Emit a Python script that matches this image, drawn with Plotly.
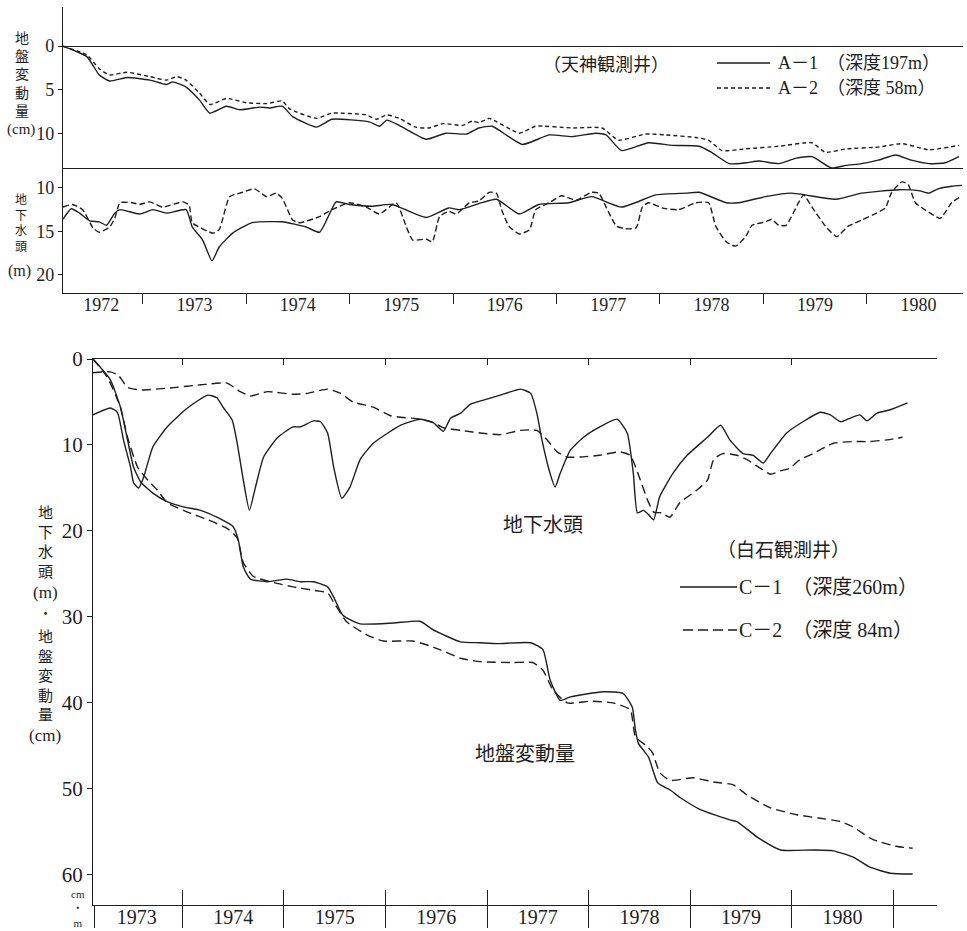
import plotly.graph_objects as go

# ---------------- data (decimal years, values) ----------------
# 天神観測井 : ground deformation (cm)
A1_def_t = [1972.23, 1972.46, 1972.58, 1972.68, 1972.85, 1973.07, 1973.23, 1973.29, 1973.42, 1973.55,
            1973.65, 1973.81, 1973.94, 1974.13, 1974.23, 1974.35, 1974.45, 1974.68, 1974.83, 1975.19,
            1975.29, 1975.36, 1975.48, 1975.74, 1975.93, 1976.13, 1976.25, 1976.38, 1976.67, 1976.93,
            1977.15, 1977.38, 1977.48, 1977.63, 1977.89, 1978.12, 1978.38, 1978.50, 1978.67, 1978.83,
            1978.96, 1979.15, 1979.31, 1979.47, 1979.66, 1979.80, 1979.95, 1980.11, 1980.28, 1980.43,
            1980.60, 1980.76, 1980.89]
A1_def_v = [0.0, 1.2, 3.3, 4.0, 3.6, 3.9, 4.4, 4.1, 4.7, 6.2,
            7.7, 6.9, 7.3, 7.0, 7.1, 6.9, 8.1, 9.3, 8.4, 8.7,
            9.2, 8.5, 9.1, 10.7, 10.0, 10.1, 9.4, 9.2, 11.3, 10.2,
            10.4, 10.0, 10.2, 12.0, 11.1, 11.4, 11.5, 12.2, 13.5, 13.4,
            13.2, 13.5, 12.9, 12.7, 14.0, 13.7, 13.5, 13.1, 12.5, 13.1,
            13.5, 13.4, 12.7]
A2_def_t = [1972.23, 1972.46, 1972.58, 1972.68, 1972.85, 1973.07, 1973.23, 1973.33, 1973.42, 1973.55,
            1973.65, 1973.81, 1974.00, 1974.20, 1974.35, 1974.42, 1974.68, 1974.83, 1975.16, 1975.26,
            1975.36, 1975.48, 1975.64, 1975.77, 1975.90, 1976.09, 1976.19, 1976.25, 1976.35, 1976.64,
            1976.80, 1977.15, 1977.44, 1977.60, 1977.86, 1978.06, 1978.35, 1978.47, 1978.60, 1978.83,
            1979.15, 1979.47, 1979.60, 1979.80, 1980.11, 1980.34, 1980.60, 1980.89]
A2_def_v = [0.0, 1.0, 2.6, 3.3, 3.0, 3.5, 3.9, 3.5, 3.9, 5.4,
            6.7, 6.0, 6.5, 6.6, 6.3, 7.2, 8.3, 7.7, 7.9, 8.4,
            7.9, 8.3, 9.3, 9.4, 8.9, 9.1, 8.6, 8.8, 8.3, 10.0,
            9.2, 9.4, 9.4, 10.8, 10.1, 10.2, 10.5, 10.8, 12.0, 11.8,
            11.5, 11.1, 12.2, 11.8, 11.6, 11.2, 11.9, 11.4]

# 天神観測井 : groundwater head (m)
A1_head_t = [1972.23, 1972.31, 1972.39, 1972.49, 1972.58, 1972.65, 1972.73, 1972.78, 1972.97, 1973.10,
             1973.23, 1973.42, 1973.48, 1973.58, 1973.67, 1973.74, 1973.87, 1974.06, 1974.35, 1974.58,
             1974.71, 1974.81, 1974.87, 1975.00, 1975.22, 1975.41, 1975.74, 1975.96, 1976.06, 1976.25,
             1976.42, 1976.64, 1976.83, 1977.12, 1977.34, 1977.63, 1977.96, 1978.25, 1978.38, 1978.64,
             1978.76, 1979.02, 1979.27, 1979.70, 1979.95, 1980.31, 1980.50, 1980.60, 1980.69, 1980.82,
             1980.92]
A1_head_v = [13.6, 12.4, 12.9, 13.8, 13.9, 14.3, 12.9, 12.5, 13.0, 12.5,
             12.9, 12.5, 14.5, 16.0, 18.4, 16.8, 15.2, 14.0, 13.9, 14.5,
             15.1, 12.9, 11.6, 11.9, 12.1, 11.9, 13.4, 12.3, 12.5, 11.8,
             11.3, 13.0, 11.9, 11.7, 11.0, 12.2, 10.8, 10.6, 10.5, 11.7,
             11.7, 11.0, 10.6, 11.3, 10.6, 10.2, 10.3, 10.6, 10.1, 9.8,
             9.7]
A2_head_t = [1972.23, 1972.32, 1972.42, 1972.52, 1972.58, 1972.68, 1972.73, 1972.78, 1972.90, 1972.97,
             1973.07, 1973.19, 1973.39, 1973.45, 1973.48, 1973.68, 1973.74, 1973.84, 1973.94, 1974.08,
             1974.20, 1974.29, 1974.35, 1974.45, 1974.52, 1974.71, 1974.83, 1975.00, 1975.16, 1975.29,
             1975.45, 1975.55, 1975.61, 1975.74, 1975.80, 1975.87, 1975.96, 1976.03, 1976.16, 1976.25,
             1976.35, 1976.42, 1976.47, 1976.54, 1976.64, 1976.74, 1976.80, 1976.93, 1977.05, 1977.19,
             1977.34, 1977.41, 1977.48, 1977.58, 1977.67, 1977.77, 1977.83, 1977.89, 1978.02, 1978.18,
             1978.35, 1978.47, 1978.54, 1978.64, 1978.73, 1978.83, 1978.89, 1979.02, 1979.08, 1979.15,
             1979.22, 1979.34, 1979.39, 1979.47, 1979.60, 1979.71, 1979.82, 1979.95, 1980.11, 1980.18,
             1980.24, 1980.34, 1980.40, 1980.47, 1980.60, 1980.71, 1980.82, 1980.92]
A2_head_v = [12.2, 11.9, 12.5, 14.6, 15.1, 14.5, 13.5, 11.7, 11.7, 11.9,
             11.6, 12.2, 11.6, 12.0, 14.0, 15.2, 14.8, 11.0, 10.6, 10.1,
             11.0, 10.6, 11.2, 13.7, 14.0, 13.3, 12.5, 11.7, 12.2, 13.0,
             11.7, 14.5, 16.0, 15.9, 16.2, 13.3, 12.7, 13.0, 11.7, 11.5,
             10.5, 10.6, 12.5, 14.4, 15.3, 14.8, 12.5, 11.7, 10.9, 11.4,
             10.5, 10.6, 12.2, 14.4, 14.7, 14.6, 12.2, 11.7, 12.3, 12.5,
             11.7, 11.7, 14.4, 16.2, 16.7, 15.6, 14.3, 13.9, 13.6, 14.3,
             14.3, 11.7, 10.8, 12.2, 14.4, 15.6, 14.4, 13.7, 12.8, 12.3,
             10.5, 9.3, 9.6, 11.7, 12.8, 13.5, 11.7, 10.9]

# 白石観測井 : groundwater head (m)
C1_head_t = [1973.12, 1973.29, 1973.36, 1973.42, 1973.49, 1973.52, 1973.57, 1973.62, 1973.71, 1973.85,
             1974.05, 1974.25, 1974.34, 1974.40, 1974.49, 1974.54, 1974.60, 1974.66, 1974.72, 1974.80,
             1974.94, 1975.09, 1975.16, 1975.29, 1975.36, 1975.43, 1975.49, 1975.57, 1975.65, 1975.75,
             1975.88, 1976.15, 1976.34, 1976.47, 1976.57, 1976.64, 1976.74, 1976.83, 1976.93, 1977.13,
             1977.33, 1977.43, 1977.49, 1977.54, 1977.62, 1977.67, 1977.72, 1977.82, 1977.95, 1978.11,
             1978.28, 1978.38, 1978.44, 1978.48, 1978.54, 1978.59, 1978.64, 1978.70, 1978.83, 1978.97,
             1979.17, 1979.30, 1979.39, 1979.52, 1979.62, 1979.72, 1979.79, 1979.95, 1980.11, 1980.28,
             1980.38, 1980.48, 1980.57, 1980.67, 1980.74, 1980.84, 1980.97, 1981.14]
C1_head_v = [6.5, 5.7, 6.2, 9.4, 12.6, 14.4, 15.0, 13.7, 10.2, 7.9,
             5.7, 4.2, 4.5, 5.6, 7.1, 9.8, 14.1, 17.6, 14.9, 11.4,
             9.1, 7.9, 7.9, 7.2, 7.3, 8.6, 12.6, 16.2, 14.9, 11.7,
             9.8, 7.7, 7.0, 7.4, 8.4, 6.9, 6.3, 5.3, 4.9, 4.2,
             3.5, 4.0, 6.3, 9.4, 13.3, 14.9, 13.3, 10.6, 9.1, 7.9,
             7.0, 8.6, 13.3, 17.9, 17.6, 18.1, 18.7, 16.0, 13.3, 11.2,
             9.1, 7.7, 9.4, 11.0, 11.2, 12.1, 11.0, 8.6, 7.3, 6.2,
             6.5, 7.3, 6.9, 6.5, 7.2, 6.3, 5.9, 5.1]
C2_head_t = [1973.12, 1973.29, 1973.37, 1973.46, 1973.59, 1973.85, 1974.18, 1974.44, 1974.57, 1974.67,
             1974.84, 1975.09, 1975.23, 1975.43, 1975.56, 1975.68, 1975.88, 1976.05, 1976.34, 1976.47,
             1976.57, 1976.74, 1976.93, 1977.13, 1977.33, 1977.49, 1977.59, 1977.69, 1977.79, 1977.92,
             1978.11, 1978.31, 1978.41, 1978.51, 1978.58, 1978.64, 1978.72, 1978.80, 1978.90, 1979.07,
             1979.17, 1979.23, 1979.32, 1979.46, 1979.56, 1979.69, 1979.79, 1979.89, 1979.98, 1980.08,
             1980.21, 1980.41, 1980.60, 1980.77, 1980.94, 1981.09]
C2_head_v = [1.6, 1.5, 1.9, 3.3, 3.6, 3.4, 3.0, 2.8, 3.8, 4.3,
             3.8, 4.1, 4.0, 3.5, 4.0, 5.0, 5.6, 6.6, 7.0, 7.4,
             8.0, 8.3, 8.6, 8.8, 8.3, 8.3, 9.4, 10.8, 11.4, 11.4,
             11.2, 10.8, 11.2, 14.1, 16.4, 17.8, 17.9, 18.4, 16.7, 15.2,
             14.1, 11.7, 11.0, 11.2, 11.7, 12.7, 13.4, 13.0, 12.7, 11.7,
             11.0, 9.8, 9.6, 9.6, 9.4, 9.1]

# 白石観測井 : ground deformation (cm)
C1_def_t = [1973.12, 1973.29, 1973.39, 1973.46, 1973.52, 1973.59, 1973.71, 1973.85, 1974.01, 1974.18,
            1974.34, 1974.50, 1974.55, 1974.60, 1974.67, 1974.84, 1975.03, 1975.16, 1975.29, 1975.43,
            1975.49, 1975.58, 1975.75, 1976.08, 1976.34, 1976.47, 1976.74, 1976.93, 1977.10, 1977.43,
            1977.55, 1977.62, 1977.72, 1977.82, 1978.14, 1978.34, 1978.43, 1978.46, 1978.49, 1978.59,
            1978.68, 1978.80, 1978.90, 1979.10, 1979.39, 1979.46, 1979.66, 1979.89, 1980.21, 1980.41,
            1980.60, 1980.77, 1980.97, 1981.19]
C1_def_v = [0.0, 2.4, 5.6, 9.4, 12.6, 14.3, 15.6, 16.6, 17.2, 17.6,
            18.4, 19.5, 21.0, 24.2, 25.6, 25.9, 25.6, 25.9, 25.9, 26.5,
            27.7, 29.8, 30.8, 30.7, 30.5, 31.5, 32.9, 33.0, 33.1, 33.0,
            33.8, 37.3, 39.7, 39.3, 38.7, 38.9, 40.5, 43.1, 44.7, 46.3,
            49.3, 50.1, 51.0, 52.4, 53.6, 53.8, 55.6, 57.1, 57.1, 57.2,
            57.9, 59.1, 59.8, 59.9]
C2_def_t = [1973.12, 1973.26, 1973.39, 1973.46, 1973.56, 1973.66, 1973.75, 1973.85, 1974.05, 1974.25,
            1974.44, 1974.54, 1974.60, 1974.70, 1974.90, 1975.09, 1975.29, 1975.43, 1975.49, 1975.62,
            1975.82, 1975.98, 1976.27, 1976.47, 1976.74, 1976.93, 1977.26, 1977.45, 1977.55, 1977.65,
            1977.79, 1978.02, 1978.24, 1978.41, 1978.46, 1978.58, 1978.63, 1978.70, 1978.80, 1979.03,
            1979.23, 1979.42, 1979.56, 1979.79, 1980.05, 1980.48, 1980.60, 1980.80, 1981.04, 1981.19]
C2_def_v = [0.0, 2.1, 5.6, 9.1, 12.6, 14.1, 15.2, 16.7, 17.8, 18.7,
            19.7, 20.8, 23.7, 25.3, 26.0, 26.5, 26.9, 27.2, 28.3, 30.6,
            32.1, 32.8, 32.8, 33.5, 34.8, 35.2, 35.3, 35.3, 36.2, 38.5,
            40.0, 39.8, 40.0, 40.8, 43.9, 45.1, 45.8, 48.1, 49.0, 48.7,
            49.2, 49.5, 50.7, 52.2, 53.0, 53.8, 54.4, 55.9, 56.7, 56.9]

# axis / tick labels
TOP_YEARS = ["1972", "1973", "1974", "1975", "1976", "1977", "1978", "1979", "1980"]
TOP_YEAR_POS = [1972.6, 1973.5, 1974.5, 1975.5, 1976.5, 1977.5, 1978.5, 1979.5, 1980.5]
TOP_BOUNDS = [1973, 1974, 1975, 1976, 1977, 1978, 1979, 1980]
BOT_YEARS = ["1973", "1974", "1975", "1976", "1977", "1978", "1979", "1980"]
BOT_YEAR_POS = [1973.55, 1974.5, 1975.5, 1976.5, 1977.5, 1978.5, 1979.5, 1980.5]
BOT_BOUNDS = [1973.13, 1974, 1975, 1976, 1977, 1978, 1979, 1980, 1981]
BOT_TOP_TICKS = [1974, 1975, 1976, 1977, 1978, 1979, 1980]
TOP_X_RANGE = [1972.23, 1980.93]
BOT_X_RANGE = [1973.12, 1981.43]

# ---------------- layout helpers ----------------
W, H = 967, 931
def px(x):
    return x / W
def py(y):
    return 1 - y / H

INK = "#1e1e1e"
SERIF = "Liberation Serif, Noto Sans CJK JP, serif"
CJK = "Noto Sans CJK JP, Liberation Serif, sans-serif"
NB = "\u00a0"

fig = go.Figure()

def add(t, v, xa, ya, dash):
    fig.add_trace(go.Scatter(
        x=t, y=v, mode="lines", xaxis=xa, yaxis=ya,
        line=dict(color=INK, width=1.4, dash=dash, shape="spline", smoothing=0.5),
        showlegend=False, hoverinfo="skip"))

add(A1_def_t, A1_def_v, "x", "y", "solid")
add(A2_def_t, A2_def_v, "x", "y", "4px,3px")
add(A1_head_t, A1_head_v, "x2", "y2", "solid")
add(A2_head_t, A2_head_v, "x2", "y2", "6px,3px")
add(C1_head_t, C1_head_v, "x4", "y4", "solid")
add(C1_def_t, C1_def_v, "x4", "y4", "solid")
add(C2_head_t, C2_head_v, "x5", "y4", "9px,5px")
add(C2_def_t, C2_def_v, "x6", "y4", "9px,5px")

base = dict(showgrid=False, zeroline=False, linecolor=INK, linewidth=1.3,
            tickcolor=INK, tickwidth=1.2, automargin=False)

fig.update_layout(
    template="none",
    width=W, height=H, margin=dict(l=0, r=0, t=0, b=0, pad=0), autosize=False,
    paper_bgcolor="white", plot_bgcolor="white", showlegend=False,
    xaxis=dict(base, domain=[px(63), px(963)], range=TOP_X_RANGE, anchor="y",
               showline=True, ticks="", showticklabels=False),
    yaxis=dict(base, domain=[py(168), py(7)], range=[14.0, -4.5], anchor="x",
               showline=True, tickvals=[0, 5, 10], ticks="outside", ticklen=4,
               tickfont=dict(family=SERIF, size=18, color=INK),
               zeroline=True, zerolinecolor=INK, zerolinewidth=1.3),
    xaxis2=dict(base, domain=[px(63), px(963)], range=TOP_X_RANGE, anchor="y2",
                showline=True, tickvals=TOP_YEAR_POS, ticktext=TOP_YEARS, ticks="",
                ticklabelstandoff=-5,
                tickfont=dict(family=SERIF, size=18, color=INK),
                minor=dict(tickvals=TOP_BOUNDS, ticks="outside", ticklen=10,
                           tickwidth=1.2, tickcolor=INK, showgrid=False)),
    yaxis2=dict(base, domain=[py(293), py(168)], range=[22.1, 7.7], anchor="x2",
                showline=True, tickvals=[10, 15, 20], ticks="outside", ticklen=4,
                tickfont=dict(family=SERIF, size=18, color=INK)),
    xaxis4=dict(base, domain=[px(93), px(937)], range=BOT_X_RANGE, anchor="y4",
                showline=True, tickvals=BOT_YEAR_POS, ticktext=BOT_YEARS, ticks="",
                ticklabelstandoff=-6,
                tickfont=dict(family=SERIF, size=20, color=INK),
                minor=dict(tickvals=BOT_BOUNDS, ticks="outside", ticklen=22,
                           tickwidth=1.2, tickcolor=INK, showgrid=False)),
    xaxis5=dict(base, range=BOT_X_RANGE, anchor="y4", overlaying="x4", side="top",
                showline=True, tickvals=BOT_TOP_TICKS, ticks="inside", ticklen=6,
                showticklabels=False),
    xaxis6=dict(base, range=BOT_X_RANGE, anchor="y4", overlaying="x4", side="bottom",
                showline=False, tickvals=BOT_BOUNDS[1:], ticks="inside", ticklen=15,
                showticklabels=False),
    yaxis4=dict(base, domain=[py(905), py(359)], range=[63.5, 0], anchor="x4",
                showline=True, tickvals=[0, 10, 20, 30, 40, 50, 60], ticks="outside",
                ticklen=5, tickfont=dict(family=SERIF, size=21, color=INK)),
)

ann = []
def text(x, y, s, size, xanchor="center", family=CJK):
    ann.append(dict(x=px(x), y=py(y), xref="paper", yref="paper", text=s, showarrow=False,
                    xanchor=xanchor, yanchor="middle", borderpad=0,
                    font=dict(family=family, size=size, color=INK)))

# vertical axis titles (stacked characters)
text(22, 74, "地<br>盤<br>変<br>動<br>量", 14)
text(21, 130, "(cm)", 15, family=SERIF)
text(21, 222, "地<br>下<br>水<br>頭", 12)
text(19, 271, "(m)", 16, family=SERIF)
text(45, 541, "地<br>下<br>水<br>頭", 15)
text(45, 592, "(m)", 17, family=SERIF)
text(45, 612, "・", 13)
text(45, 674, "地<br>盤<br>変<br>動<br>量", 15)
text(45, 735, "(cm)", 17, family=SERIF)
# unit note at lower-left corner
text(78, 908, "cm<br>・<br>m", 11, family=SERIF)

# top legend
text(606, 63, "（天神観測井）", 18)
text(777, 63, "A－1" + NB + " （深度197m）", 18, xanchor="left", family=SERIF)
text(777, 88, "A－2" + NB + " （深度 58m）", 18, xanchor="left", family=SERIF)
# bottom legend
text(783, 548, "（白石観測井）", 19)
text(738, 587, "C－1" + NB + " （深度260m）", 20, xanchor="left", family=SERIF)
text(738, 630, "C－2" + NB + " （深度 84m）", 20, xanchor="left", family=SERIF)
# in-chart labels
text(543, 523, "地下水頭", 20)
text(525, 752, "地盤変動量", 20)

fig.update_layout(annotations=ann)

shapes = [
    dict(type="line", xref="paper", yref="paper", x0=px(717), x1=px(770), y0=py(63), y1=py(63),
         line=dict(color=INK, width=1.3)),
    dict(type="line", xref="paper", yref="paper", x0=px(717), x1=px(772), y0=py(88), y1=py(88),
         line=dict(color=INK, width=1.3, dash="4px,3px")),
    dict(type="line", xref="paper", yref="paper", x0=px(680), x1=px(737), y0=py(587), y1=py(587),
         line=dict(color=INK, width=1.3)),
    dict(type="line", xref="paper", yref="paper", x0=px(683), x1=px(737), y0=py(630), y1=py(630),
         line=dict(color=INK, width=1.3, dash="10px,5px")),
]
fig.update_layout(shapes=shapes)

fig.write_html("out.html",
               config={"displayModeBar": False},
               post_script="document.body.style.margin='0';document.body.style.overflow='hidden';")
